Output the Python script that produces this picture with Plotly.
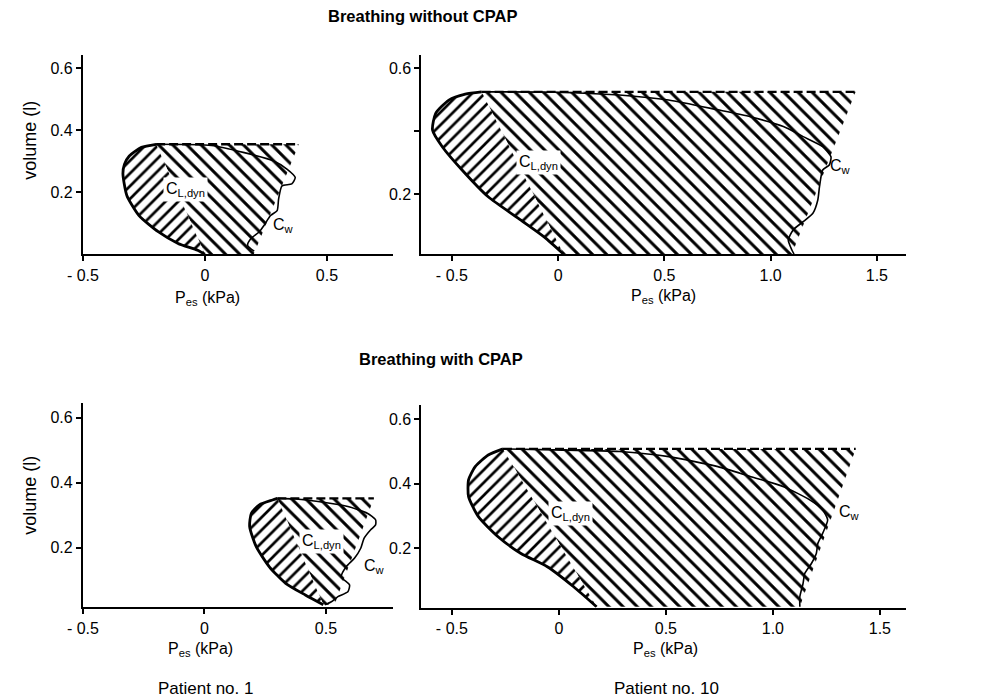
import plotly.graph_objects as go

# ---------------- data ----------------
# Panel A: breathing without CPAP, patient no. 1
insp_x_A = [0.0, -0.03, -0.11, -0.19, -0.27, -0.32, -0.336, -0.33, -0.31, -0.26, -0.20]
insp_y_A = [0.0, 0.013, 0.035, 0.072, 0.125, 0.19, 0.26, 0.29, 0.317, 0.345, 0.355]
exp_x_A = [-0.20, 0.027, 0.161, 0.282, 0.336, 0.37, 0.356, 0.316, 0.302, 0.296, 0.269, 0.242, 0.222, 0.188, 0.175, 0.202]
exp_y_A = [0.355, 0.351, 0.328, 0.301, 0.275, 0.248, 0.227, 0.221, 0.179, 0.141, 0.125, 0.093, 0.072, 0.05, 0.029, 0.01]
cl_x_A, cl_y_A = [0.0, -0.20], [0.0, 0.355]
cw_x_A, cw_y_A = [0.20, 0.385], [0.0, 0.355]

# Panel B: breathing without CPAP, patient no. 10
insp_x_B = [0.026, -0.066, -0.175, -0.329, -0.452, -0.545, -0.591, -0.576, -0.514, -0.437, -0.36]
insp_y_B = [0.01, 0.065, 0.118, 0.192, 0.277, 0.351, 0.404, 0.457, 0.499, 0.518, 0.525]
exp_x_B = [-0.36, -0.02, 0.288, 0.52, 0.751, 0.905, 1.06, 1.153, 1.245, 1.284, 1.276, 1.245, 1.23, 1.222, 1.199, 1.153, 1.106, 1.083, 1.10, 1.11]
exp_y_B = [0.525, 0.524, 0.515, 0.499, 0.468, 0.446, 0.415, 0.383, 0.351, 0.319, 0.293, 0.277, 0.224, 0.182, 0.14, 0.113, 0.087, 0.055, 0.023, 0.01]
cl_x_B, cl_y_B = [0.026, -0.36], [0.01, 0.525]
cw_x_B, cw_y_B = [1.10, 1.40], [0.01, 0.525]

# Panel C: breathing with CPAP, patient no. 1
insp_x_C = [0.489, 0.415, 0.334, 0.267, 0.213, 0.186, 0.193, 0.226, 0.28, 0.30]
insp_y_C = [0.024, 0.054, 0.09, 0.141, 0.203, 0.265, 0.306, 0.332, 0.347, 0.352]
exp_x_C = [0.30, 0.374, 0.496, 0.59, 0.67, 0.704, 0.704, 0.684, 0.657, 0.643, 0.617, 0.583, 0.563, 0.597, 0.59, 0.549, 0.522, 0.496]
exp_y_C = [0.352, 0.35, 0.339, 0.327, 0.306, 0.286, 0.27, 0.255, 0.229, 0.198, 0.167, 0.141, 0.11, 0.085, 0.064, 0.049, 0.033, 0.024]
cl_x_C, cl_y_C = [0.489, 0.30], [0.024, 0.352]
cw_x_C, cw_y_C = [0.535, 0.697], [0.024, 0.352]

# Panel D: breathing with CPAP, patient no. 10
insp_x_D = [0.176, 0.069, -0.054, -0.177, -0.284, -0.376, -0.422, -0.422, -0.391, -0.33, -0.261]
insp_y_D = [0.019, 0.081, 0.143, 0.184, 0.236, 0.298, 0.36, 0.412, 0.453, 0.489, 0.508]
exp_x_D = [-0.261, -0.023, 0.283, 0.513, 0.743, 0.897, 1.05, 1.172, 1.233, 1.256, 1.233, 1.21, 1.203, 1.18, 1.149, 1.141, 1.126, 1.126]
exp_y_D = [0.508, 0.505, 0.5, 0.484, 0.453, 0.422, 0.391, 0.35, 0.319, 0.288, 0.247, 0.215, 0.184, 0.153, 0.122, 0.091, 0.05, 0.019]
cl_x_D, cl_y_D = [0.176, -0.261], [0.019, 0.508]
cw_x_D, cw_y_D = [1.126, 1.387], [0.019, 0.508]

# label positions (data coords)
lab_cl = {"A": (-0.08, 0.21), "B": (-0.09, 0.30), "C": (0.482, 0.219), "D": (0.053, 0.309)}
lab_cw = {"A": (0.32, 0.093), "B": (1.33, 0.287), "C": (0.70, 0.141), "D": (1.357, 0.31)}

x_ticks_left = [-0.5, 0, 0.5]
x_ticktext_left = ["- 0.5", "0", "0.5"]
x_ticks_right = [-0.5, 0, 0.5, 1.0, 1.5]
x_ticktext_right = ["- 0.5", "0", "0.5", "1.0", "1.5"]
y_ticks = [0.2, 0.4, 0.6]
y_ticktext_full = ["0.2", "0.4", "0.6"]
y_ticktext_B = ["0.2", "", "0.6"]

titles = ["Breathing without CPAP", "Breathing with CPAP"]
patients = ["Patient no. 1", "Patient no. 10"]

# ---------------- figure ----------------
W, H = 993, 699
FONT = "Liberation Sans, Arial, sans-serif"

panels = {
    "A": dict(ix=insp_x_A, iy=insp_y_A, ex=exp_x_A, ey=exp_y_A, clx=cl_x_A, cly=cl_y_A, cwx=cw_x_A, cwy=cw_y_A,
              ax="x", ay="y", xdom=(68, 383), ydom=(254.3, 55), xr=(-0.5, 0.77), yr=(0.0, 0.643),
              xt=x_ticks_left, xtt=x_ticktext_left, ytt=y_ticktext_full),
    "B": dict(ix=insp_x_B, iy=insp_y_B, ex=exp_x_B, ey=exp_y_B, clx=cl_x_B, cly=cl_y_B, cwx=cw_x_B, cwy=cw_y_B,
              ax="x2", ay="y2", xdom=(412, 905), ydom=(254.3, 55), xr=(-0.6435, 1.639), yr=(0.0095, 0.642),
              xt=x_ticks_right, xtt=x_ticktext_right, ytt=y_ticktext_B),
    "C": dict(ix=insp_x_C, iy=insp_y_C, ex=exp_x_C, ey=exp_y_C, clx=cl_x_C, cly=cl_y_C, cwx=cw_x_C, cwy=cw_y_C,
              ax="x3", ay="y3", xdom=(68, 383), ydom=(607.3, 403.3), xr=(-0.5, 0.775), yr=(0.016, 0.645),
              xt=x_ticks_left, xtt=x_ticktext_left, ytt=y_ticktext_full),
    "D": dict(ix=insp_x_D, iy=insp_y_D, ex=exp_x_D, ey=exp_y_D, clx=cl_x_D, cly=cl_y_D, cwx=cw_x_D, cwy=cw_y_D,
              ax="x4", ay="y4", xdom=(412, 905), ydom=(607.7, 405), xr=(-0.6425, 1.624), yr=(0.016, 0.644),
              xt=x_ticks_right, xtt=x_ticktext_right, ytt=y_ticktext_full),
}

fig = go.Figure()
annotations = []
layout_axes = {}

for key, p in panels.items():
    xa, ya = p["ax"], p["ay"]
    vt = p["iy"][-1]
    # middle region: between C_L,dyn line and C_w line
    fig.add_trace(go.Scatter(
        x=[p["clx"][0], p["clx"][1], p["cwx"][1], p["cwx"][0]],
        y=[p["cly"][0], p["cly"][1], p["cwy"][1], p["cwy"][0]],
        mode="none", fill="toself", fillcolor="white",
        fillpattern=dict(shape="\\", fgcolor="black", fgopacity=1, bgcolor="white", size=10, solidity=0.3,
                         fillmode="replace"),
        xaxis=xa, yaxis=ya, showlegend=False, hoverinfo="skip"))
    # left region: inspiratory limb vs C_L,dyn line
    fig.add_trace(go.Scatter(
        x=p["ix"], y=p["iy"], mode="none", fill="toself", fillcolor="white",
        fillpattern=dict(shape="/", fgcolor="black", fgopacity=1, bgcolor="white", size=9, solidity=0.3,
                         fillmode="replace"),
        xaxis=xa, yaxis=ya, showlegend=False, hoverinfo="skip"))
    # inspiratory limb outline
    fig.add_trace(go.Scatter(x=p["ix"], y=p["iy"], mode="lines", line=dict(color="black", width=2.8, shape="spline", smoothing=0.6),
                             xaxis=xa, yaxis=ya, showlegend=False, hoverinfo="skip"))
    # expiratory limb
    fig.add_trace(go.Scatter(x=p["ex"], y=p["ey"], mode="lines", line=dict(color="black", width=1.6, shape="spline", smoothing=0.6),
                             xaxis=xa, yaxis=ya, showlegend=False, hoverinfo="skip"))
    # dashed top line (tidal volume)
    fig.add_trace(go.Scatter(x=[p["ix"][-1], p["cwx"][1]], y=[vt, vt], mode="lines",
                             line=dict(color="black", width=2.4, dash="9px,4px"),
                             xaxis=xa, yaxis=ya, showlegend=False, hoverinfo="skip"))

    xn = xa.replace("x", "xaxis")
    yn = ya.replace("y", "yaxis")
    layout_axes[xn] = dict(domain=[p["xdom"][0] / W, p["xdom"][1] / W], range=list(p["xr"]), anchor=ya,
                           showline=True, linecolor="black", linewidth=2, ticks="outside", ticklen=5,
                           tickwidth=1.5, tickcolor="black", showgrid=False, zeroline=False,
                           tickvals=p["xt"], ticktext=p["xtt"], tickfont=dict(family=FONT, size=16, color="black"))
    layout_axes[yn] = dict(domain=[1 - p["ydom"][0] / H, 1 - p["ydom"][1] / H], range=list(p["yr"]), anchor=xa,
                           showline=True, linecolor="black", linewidth=2, ticks="outside", ticklen=5,
                           tickwidth=1.5, tickcolor="black", showgrid=False, zeroline=False,
                           tickvals=y_ticks, ticktext=p["ytt"], tickfont=dict(family=FONT, size=16, color="black"))

    cx, cy = lab_cl[key]
    annotations.append(dict(x=cx, y=cy, xref=xa, yref=ya, text="C<sub>L,dyn</sub>", showarrow=False,
                            bgcolor="white", borderpad=2, font=dict(family=FONT, size=16, color="black")))
    wx, wy = lab_cw[key]
    annotations.append(dict(x=wx, y=wy, xref=xa, yref=ya, text="C<sub>w</sub>", showarrow=False,
                            bgcolor="rgba(0,0,0,0)", font=dict(family=FONT, size=16, color="black")))

def paper_note(text, px, py, size=16, bold=False, angle=0):
    if bold:
        text = "<b>" + text + "</b>"
    annotations.append(dict(x=px / W, y=1 - py / H, xref="paper", yref="paper", text=text, showarrow=False,
                            xanchor="center", yanchor="middle", textangle=angle,
                            font=dict(family=FONT, size=size, color="black")))

paper_note(titles[0], 413, 16, size=16.5, bold=True)
paper_note(titles[1], 432, 359, size=16.5, bold=True)
paper_note("P<sub>es</sub> (kPa)", 195, 298, size=16)
paper_note("P<sub>es</sub> (kPa)", 658, 296, size=16)
paper_note("P<sub>es</sub> (kPa)", 188, 649, size=16)
paper_note("P<sub>es</sub> (kPa)", 660, 649, size=16)
paper_note("volume (l)", 14, 140, size=18, angle=-90)
paper_note("volume (l)", 14, 495, size=18, angle=-90)
paper_note(patients[0], 193, 688, size=17)
paper_note(patients[1], 661, 688, size=17)

fig.update_layout(width=W, height=H, margin=dict(l=0, r=0, t=0, b=0), autosize=False,
                  paper_bgcolor="white", plot_bgcolor="white", showlegend=False,
                  annotations=annotations, **layout_axes)

fig.write_html("out.html")
